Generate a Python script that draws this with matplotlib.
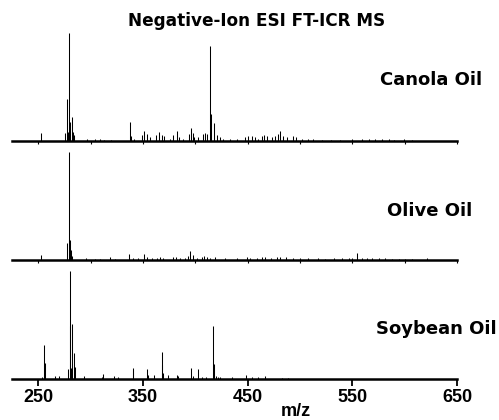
import matplotlib
matplotlib.use("Agg")
import matplotlib.pyplot as plt

plt.rcParams['font.family'] = ['Liberation Sans', 'DejaVu Sans']

# peak lists (m/z, relative intensity)
canola_mz = [252.6, 275.5, 277.1, 278.5, 279.6, 280.6, 281.9, 282.9, 283.8, 296.8,
             304.0, 309.0, 313.0, 319.8, 337.7, 338.6, 341.5, 348.8, 351.3, 353.6,
             356.8, 362.2, 365.4, 368.0, 370.5, 375.9, 379.1, 382.3, 384.2, 388.6,
             394.0, 396.0, 397.6, 399.1, 403.0, 407.2, 409.4, 411.6, 414.2, 415.1,
             418.3, 420.5, 423.7, 426.9, 433.3, 439.7, 447.6, 450.8, 454.0, 457.2,
             460.3, 464.2, 466.1, 468.3, 473.1, 476.3, 478.8, 481.0, 483.6, 487.5,
             493.8, 496.1, 501.8, 508.1, 512.9, 520.9, 530.0, 538.4, 549.6, 559.2,
             565.5, 571.9, 578.3, 584.6, 590.0, 599.0, 607.0]
canola_int = [6.9, 7, 38.6, 8, 100, 17.6, 22, 8, 5, 2,
              1.5, 1.5, 1, 1, 17.6, 4, 2, 5, 9, 6,
              3, 5, 7.8, 5, 4, 2, 5, 9, 3, 2,
              6, 12, 7, 3, 3, 6, 7, 6, 88, 25,
              16, 5, 3, 2, 2, 2, 3, 4, 4, 3,
              2, 4, 5, 4, 3, 4, 6, 9, 4, 3,
              4, 3, 2, 2, 1.5, 1, 1, 1, 1.5, 1.5,
              1.5, 1.5, 1.5, 1.5, 1, 1.5, 1]

olive_mz = [252.6, 277.1, 279.6, 280.3, 281.3, 282.5, 295.6, 304.2, 309.0, 318.5,
            323.3, 337.0, 340.8, 345.6, 351.3, 353.6, 358.4, 363.2, 366.4, 369.5,
            379.1, 381.4, 385.5, 390.2, 393.4, 395.3, 397.6, 401.4, 406.2, 408.4,
            411.0, 414.2, 418.9, 428.5, 439.7, 449.2, 452.4, 458.8, 464.2, 466.8,
            472.5, 477.9, 481.1, 486.8, 493.8, 500.2, 508.1, 517.7, 524.1, 532.1,
            540.0, 546.4, 549.6, 554.4, 559.2, 564.0, 568.7, 575.1, 581.5, 587.9,
            594.2, 600.6, 607.0, 621.3]
olive_int = [4.6, 15.5, 100, 18.6, 9.3, 4, 1.5, 1, 1, 2.5,
             1, 6, 1.5, 1.5, 5.3, 2.5, 2, 2, 3, 2,
             3, 3, 2, 2, 4, 8, 5, 2, 3, 4,
             3, 2, 3, 1.5, 2, 3, 2, 2, 3, 3,
             2, 3, 3, 3, 2, 1.5, 1.5, 1.5, 1, 1.5,
             1.5, 2, 2, 6.5, 2, 2, 1.5, 1.5, 1.5, 1,
             1, 1, 1, 1.5]

soybean_mz = [253.8, 255.8, 256.4, 266.0, 270.1, 278.7, 280.0, 280.6, 281.4, 282.2,
              283.8, 284.8, 293.7, 310.6, 311.5, 322.4, 325.9, 340.2, 340.8, 354.2,
              355.2, 360.6, 368.0, 368.6, 369.5, 374.3, 382.3, 383.8, 396.0, 397.6,
              403.0, 406.2, 410.0, 416.7, 417.7, 419.9, 422.0, 423.7, 434.9, 448.6,
              454.6, 460.3, 466.7, 482.7, 489.0]
soybean_int = [1.5, 31.5, 15, 3, 3, 9, 100, 49, 10, 50.6,
               24, 11, 2.5, 2, 4.6, 2.5, 1.5, 10.5, 8, 9.5,
               4, 3.5, 24.7, 13, 6, 4, 4, 2.5, 10.5, 3,
               9.3, 1.5, 2, 49, 14, 3, 1.5, 1.5, 2, 4,
               1.5, 1.5, 3, 1, 0.8]

oil_names = ['Canola Oil', 'Olive Oil', 'Soybean Oil']
spectra = [(canola_mz, canola_int), (olive_mz, olive_int), (soybean_mz, soybean_int)]

W, H = 499, 420
fig = plt.figure(figsize=(W / 100, H / 100), dpi=100)

# baseline pixel rows and label positions for each panel
baselines = [140.7, 260.0, 379.0]
label_pos = [(482, 80), (472, 211.5), (497, 329)]
x0, x1 = 12, 457
wide = ['DejaVu Sans']

for i, (mz, inten) in enumerate(spectra):
    ax = fig.add_axes([x0 / W, 1 - baselines[i] / H, (x1 - x0) / W, 108 / H])
    ax.vlines(mz, 0, inten, colors='black', linewidth=0.75)
    ax.set_xlim(225, 650)
    ax.set_ylim(0, 100)
    for s in ['top', 'left', 'right']:
        ax.spines[s].set_visible(False)
    ax.spines['bottom'].set_linewidth(1.8)
    ax.set_yticks([])
    if i < 2:
        ax.set_xticks(range(250, 651, 50))
        ax.set_xticklabels([])
        ax.tick_params(axis='x', direction='out', length=2.5, width=0.8)
    else:
        ax.set_xticks(range(250, 651, 100))
        ax.tick_params(axis='x', direction='out', length=5, width=1.3,
                       labelsize=13, pad=2)
        for lab in ax.get_xticklabels():
            lab.set_fontweight('bold')
    lx, ly = label_pos[i]
    fig.text(lx / W, 1 - ly / H, oil_names[i], ha='right', va='center',
             fontsize=13, fontweight='bold', family=wide)

fig.text(257 / W, 1 - 21 / H, 'Negative-Ion ESI FT-ICR MS', ha='center', va='center',
         fontsize=12.2, fontweight='bold', family=wide)
fig.text(296 / W, 1 - 411 / H, 'm/z', ha='center', va='center',
         fontsize=13, fontweight='bold')

fig.savefig('out.png', dpi=100)
